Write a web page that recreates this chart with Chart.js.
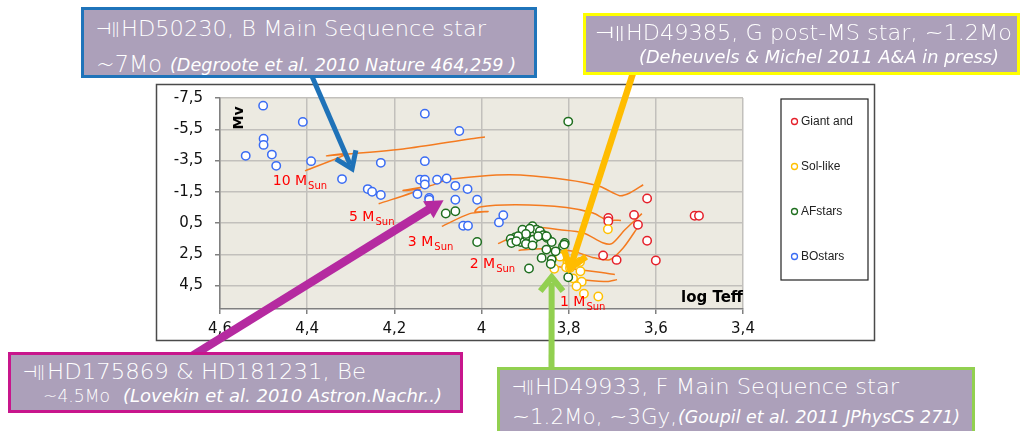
<!DOCTYPE html>
<html><head><meta charset="utf-8">
<script src="https://cdn.jsdelivr.net/npm/chart.js@4.4.1/dist/chart.umd.min.js"></script>
<style>
html,body{margin:0;padding:0;background:#fff;width:1021px;height:431px;overflow:hidden;}
#wrap{position:relative;width:1021px;height:431px;overflow:hidden;}
#c{position:absolute;left:0;top:0;}
.box{position:absolute;background:#ACA0BA;box-sizing:border-box;}
.ln{position:absolute;white-space:nowrap;color:#fff;font-family:"DejaVu Sans",Verdana,sans-serif;font-weight:200;transform-origin:0 0;}
.it{font-style:italic;}
</style></head>
<body><div id="wrap"><canvas id="c" width="1021" height="431"></canvas></div>
<script>
// ---------- DATA ----------
const xTicks = [4.6, 4.4, 4.2, 4.0, 3.8, 3.6, 3.4];
const xTickLabels = ['4,6', '4,4', '4,2', '4', '3,8', '3,6', '3,4'];
const yTicks = [-7.5, -5.5, -3.5, -1.5, 0.5, 2.5, 4.5];
const yTickLabels = ['-7,5', '-5,5', '-3,5', '-1,5', '0,5', '2,5', '4,5'];

const seriesNames = ['Giant and', 'Sol-like', 'AFstars', 'BOstars'];

const giantLogT = [3.620, 3.709, 3.709, 3.650, 3.641, 3.511, 3.501, 3.620, 3.721, 3.690, 3.600];
const giantMv   = [-1.07, 0.18, 0.39, -0.02, 0.61, 0.03, 0.03, 1.63, 2.58, 2.86, 2.90];

const solLogT = [3.710, 3.820, 3.803, 3.833, 3.806, 3.797, 3.773, 3.774, 3.790, 3.770, 3.782, 3.765, 3.732];
const solMv   = [0.90, 2.65, 2.98, 3.42, 3.33, 3.37, 3.58, 2.99, 4.04, 4.25, 4.54, 5.02, 5.20];

const afLogT = [4.082, 4.060, 3.801, 4.010, 3.906, 3.883, 3.874, 3.897, 3.881, 3.923, 3.933, 3.910, 3.898, 3.883,
                3.931, 3.866, 3.858, 3.849, 3.839, 3.809, 3.851, 3.830, 3.862, 3.839, 3.841, 3.891, 3.801, 3.889,
                3.898, 3.916, 3.870, 3.813, 3.920, 3.810, 3.851];
const afMv   = [-0.11, -0.25, -5.99, 1.71, 0.93, 0.71, 0.93, 1.35, 1.56, 1.42, 1.52, 1.71, 1.84, 1.93,
                1.78, 1.03, 1.28, 1.45, 1.71, 1.77, 2.20, 2.31, 2.73, 2.84, 3.12, 3.41, 3.97, 0.86,
                1.20, 1.35, 1.35, 1.99, 1.67, 1.88, 1.35];

const boLogT = [4.501, 4.410, 4.500, 4.500, 4.541, 4.481, 4.471, 4.391, 4.320, 4.231, 4.130, 4.130, 4.051, 4.261,
                4.251, 4.231, 4.147, 4.141, 4.130, 4.130, 4.102, 4.080, 4.060, 4.032, 4.120, 4.120, 4.060, 4.042,
                4.031, 4.010, 3.950, 3.960];
const boMv   = [-7.01, -5.97, -4.90, -4.50, -3.80, -3.88, -3.16, -3.46, -2.31, -3.35, -6.50, -3.46, -5.39, -1.67,
                -1.50, -1.29, -1.35, -2.27, -2.27, -1.97, -2.27, -2.35, -1.88, -1.67, -1.10, -0.99, -0.99, 0.67,
                0.67, -0.99, 0.00, 0.46];

// evolutionary tracks (log Teff, Mv)
const track10LogT = [4.405, 4.309, 4.355, 4.180, 4.027, 3.992];
const track10Mv   = [-2.84, -3.93, -3.80, -4.24, -4.88, -5.01];
const track5LogT  = [4.236, 4.141, 4.180, 4.118, 4.072, 3.935, 3.805, 3.728, 3.683, 3.660, 3.629];
const track5Mv    = [-0.73, -1.63, -1.58, -1.88, -2.31, -2.59, -2.27, -1.84, -1.25, -1.42, -1.95];
const track3LogT  = [4.091, 4.027, 3.985, 4.015, 4.004, 3.920, 3.805, 3.744, 3.713, 3.680];
const track3Mv    = [0.71, -0.10, -0.24, -0.22, -0.52, -0.67, -0.50, -0.14, 0.29, 0.33];
const track2LogT  = [3.962, 3.923, 3.878, 3.820, 3.767, 3.722, 3.701, 3.671, 3.632];
const track2Mv    = [1.82, 1.31, 0.80, 0.93, 1.12, 1.76, 1.82, 0.93, -0.10];
const track15LogT = [3.915, 3.860, 3.790, 3.745, 3.706, 3.675, 3.640];
const track15Mv   = [2.25, 2.15, 2.30, 2.70, 2.85, 2.10, 0.71];
const track12LogT = [3.843, 3.779, 3.724, 3.694];
const track12Mv   = [3.22, 3.48, 3.67, 3.80];
const track1LogT  = [3.809, 3.770, 3.712, 3.689];
const track1Mv    = [3.99, 4.12, 4.24, 4.12];

const massLabels = ['10', '5', '3', '2', '1'];
const massLabelLogT = [4.479, 4.304, 4.169, 4.027, 3.820];
const massLabelMv   = [-2.16, 0.16, 1.74, 3.16, 5.58];

// annotation notes: text lines
const notes = [
  {border:'#1F74BA', rect:[81,7,456,71], lines:[
    {t:'⊣ǁ', x:96, cy:29, w:24, s:16},
    {t:'HD50230, B Main Sequence star', x:121, cy:29, w:365, s:21},
    {t:'~7Mo', x:96, cy:64, w:66, s:23},
    {t:'(Degroote et al. 2010 Nature 464,259 )', x:170, cy:65, w:346, s:18, it:true}]},
  {border:'#FFFF00', rect:[583,13,437,62], lines:[
    {t:'⊣ǁ', x:595, cy:33, w:30, s:16},
    {t:'HD49385, G post-MS star, ~1.2Mo', x:626, cy:33, w:386, s:21},
    {t:'(Deheuvels & Michel 2011 A&A in press)', x:639, cy:57, w:360, s:18, it:true}]},
  {border:'#C8168C', rect:[8,352,455,61], lines:[
    {t:'⊣ǁ', x:23, cy:372, w:22, s:16},
    {t:'HD175869 & HD181231, Be', x:47, cy:372, w:319, s:21},
    {t:'~4.5Mo', x:43, cy:396, w:67, s:18},
    {t:'(Lovekin et al. 2010 Astron.Nachr..)', x:123, cy:396, w:319, s:18, it:true}]},
  {border:'#92D050', rect:[497,367,478,80], lines:[
    {t:'⊣ǁ', x:512, cy:387, w:22, s:16},
    {t:'HD49933, F Main Sequence star', x:535, cy:387, w:364, s:21},
    {t:'~1.2Mo, ~3Gy,', x:512, cy:417, w:165, s:21},
    {t:'(Goupil et al. 2011 JPhysCS 271)', x:678, cy:417, w:282, s:17, it:true}]}
];

// arrows: tail in page px (attached to a note), tip in data units
const arrows = [
  {color:'#1F72B8', width:5, tail:[311,74], tipLogT:4.297, tipMv:-2.97, head:'open', len:19, spread:35},
  {color:'#FFBC00', width:6.5, tail:[634,70], tipLogT:3.797, tipMv:3.41, head:'open', len:20, spread:36},
  {color:'#B52AA0', width:8.5, tail:[192,356], tipLogT:4.087, tipMv:-0.96, head:'filled', len:18, half:10},
  {color:'#92D050', width:6, tail:[551.5,372], tipLogT:3.839, tipMv:3.96, head:'open', len:18, spread:39}
];

// ---------- BUILD ----------
const pts = (xs, ys) => xs.map((x, i) => ({x, y: ys[i]}));
const orange = '#F47B20';
const trackDefs = [[track10LogT,track10Mv],[track5LogT,track5Mv],[track3LogT,track3Mv],[track2LogT,track2Mv],
                   [track15LogT,track15Mv],[track12LogT,track12Mv],[track1LogT,track1Mv]];
const trackSets = trackDefs.map(([a,b]) => ({
  type:'line', data:pts(a,b), showLine:true, borderColor:orange, borderWidth:1.5,
  pointRadius:0, tension:0.25, fill:false, order:10
}));
const pointColors = ['#E5202A', '#FFC000', '#1E6E1E', '#3A6CF4'];
const pointData = [pts(giantLogT,giantMv), pts(solLogT,solMv), pts(afLogT,afMv), pts(boLogT,boMv)];
const pointSets = pointData.map((d, i) => ({
  type:'scatter', label:seriesNames[i], data:d, showLine:false, pointRadius:4.2, pointBorderWidth:1.5,
  borderColor:pointColors[i], backgroundColor:'#fff', pointBackgroundColor:'#fff', order:4 - i
}));

function drawArrow(ctx, a, x1, y1) {
  const [x0, y0] = a.tail;
  const ang = Math.atan2(y1 - y0, x1 - x0);
  ctx.save();
  ctx.strokeStyle = a.color; ctx.fillStyle = a.color; ctx.lineWidth = a.width;
  ctx.lineCap = 'butt'; ctx.lineJoin = 'miter';
  if (a.head === 'filled') {
    const bx = x1 - a.len * Math.cos(ang), by = y1 - a.len * Math.sin(ang);
    ctx.beginPath(); ctx.moveTo(x0, y0); ctx.lineTo(bx + Math.cos(ang), by + Math.sin(ang)); ctx.stroke();
    const px = -Math.sin(ang), py = Math.cos(ang);
    ctx.beginPath(); ctx.moveTo(x1, y1);
    ctx.lineTo(bx + px * a.half, by + py * a.half);
    ctx.lineTo(bx - px * a.half, by - py * a.half);
    ctx.closePath(); ctx.fill();
  } else {
    const sx = x1 - a.width * 0.9 * Math.cos(ang), sy = y1 - a.width * 0.9 * Math.sin(ang);
    ctx.beginPath(); ctx.moveTo(x0, y0); ctx.lineTo(sx, sy); ctx.stroke();
    const sp = a.spread * Math.PI / 180, back = ang + Math.PI;
    ctx.beginPath();
    ctx.moveTo(x1 + a.len * Math.cos(back - sp), y1 + a.len * Math.sin(back - sp));
    ctx.lineTo(x1, y1);
    ctx.lineTo(x1 + a.len * Math.cos(back + sp), y1 + a.len * Math.sin(back + sp));
    ctx.stroke();
  }
  ctx.restore();
}

const decor = {
  id:'decor',
  beforeDraw(chart) {
    const {ctx, chartArea:ca} = chart;
    ctx.save();
    ctx.fillStyle = '#fff'; ctx.fillRect(0, 0, chart.width, chart.height);
    ctx.fillStyle = '#ECEAE1'; ctx.fillRect(ca.left, ca.top, ca.right - ca.left, ca.bottom - ca.top);
    ctx.strokeStyle = '#4A4A4A'; ctx.lineWidth = 1.5;
    ctx.strokeRect(156.5, 84.5, 718, 256);
    ctx.restore();
  },
  afterDatasetsDraw(chart) {
    const {ctx, chartArea:ca, scales:{x, y}} = chart;
    ctx.save();
    // mass labels
    ctx.fillStyle = '#FF0000'; ctx.textBaseline = 'middle'; ctx.textAlign = 'left';
    massLabels.forEach((m, i) => {
      const px = x.getPixelForValue(massLabelLogT[i]), py = y.getPixelForValue(massLabelMv[i]);
      ctx.font = '14px "DejaVu Sans", sans-serif';
      const t = m + ' M';
      ctx.fillText(t, px, py);
      const w = ctx.measureText(t).width;
      ctx.font = '10px "DejaVu Sans", sans-serif';
      ctx.fillText('Sun', px + w + 1, py + 5);
    });
    // axis titles
    ctx.fillStyle = '#000';
    ctx.font = 'bold 15px "DejaVu Sans", sans-serif';
    ctx.textAlign = 'right';
    ctx.fillText('log Teff', ca.right, 298);
    ctx.save();
    ctx.translate(239, 118); ctx.rotate(-Math.PI / 2);
    ctx.textAlign = 'center'; ctx.font = 'bold 14px "DejaVu Sans", sans-serif';
    ctx.fillText('Mv', 0, 0);
    ctx.restore();
    // legend
    ctx.strokeStyle = '#222'; ctx.lineWidth = 1.2;
    ctx.strokeRect(781, 99, 87, 181);
    ctx.font = '12px "Liberation Sans", Arial, sans-serif';
    ctx.textAlign = 'left';
    chart.data.datasets.filter(d => d.label).forEach((d, i) => {
      const ly = 121.5 + i * 45;
      ctx.beginPath(); ctx.arc(794.5, ly, 3, 0, Math.PI * 2);
      ctx.fillStyle = '#fff'; ctx.fill();
      ctx.strokeStyle = d.borderColor; ctx.lineWidth = 1.3; ctx.stroke();
      ctx.fillStyle = '#222'; ctx.fillText(d.label, 801, ly + 0.5);
    });
    // arrows
    arrows.forEach(a => drawArrow(ctx, a, x.getPixelForValue(a.tipLogT), y.getPixelForValue(a.tipMv)));
    ctx.restore();
  }
};

new Chart(document.getElementById('c'), {
  type:'scatter',
  data:{datasets:[...trackSets, ...pointSets]},
  options:{
    responsive:false, animation:false, devicePixelRatio:1,
    layout:{padding:{left:156, top:98, right:278, bottom:90}},
    plugins:{legend:{display:false}, tooltip:{enabled:false}},
    scales:{
      x:{type:'linear', reverse:true, min:3.4, max:4.6,
        afterBuildTicks:s => { s.ticks = xTicks.map(v => ({value:v})); },
        afterFit:s => { s.height = 32; },
        ticks:{callback:v => xTickLabels[xTicks.indexOf(v)], color:'#111', padding:6,
          font:{family:'"DejaVu Sans", sans-serif', size:15}, maxRotation:0, autoSkip:false},
        grid:{color:'#C2C0BC', lineWidth:1.5, tickColor:'#808080', tickLength:5},
        border:{color:'#808080', width:1.5}},
      y:{type:'linear', reverse:true, min:-7.5, max:6,
        afterBuildTicks:s => { s.ticks = yTicks.map(v => ({value:v})); },
        afterFit:s => { s.width = 64; },
        ticks:{callback:v => yTickLabels[yTicks.indexOf(v)], color:'#111', padding:12,
          font:{family:'"DejaVu Sans", sans-serif', size:15}, autoSkip:false},
        grid:{color:'#C2C0BC', lineWidth:1.5, tickColor:'#808080', tickLength:5},
        border:{color:'#808080', width:1.5}}
    }
  },
  plugins:[decor]
});

// notes (HTML text boxes)
const wrap = document.getElementById('wrap');
notes.forEach(n => {
  const b = document.createElement('div');
  b.className = 'box';
  b.style.cssText += `left:${n.rect[0]}px;top:${n.rect[1]}px;width:${n.rect[2]}px;height:${n.rect[3]}px;border:3px solid ${n.border};`;
  wrap.appendChild(b);
  n.lines.forEach(l => {
    const d = document.createElement('div');
    d.className = 'ln' + (l.it ? ' it' : '');
    d.textContent = l.t;
    d.style.fontSize = l.s + 'px';
    d.style.lineHeight = l.s + 'px';
    d.style.left = l.x + 'px';
    d.style.top = (l.cy - 0.48 * l.s) + 'px';
    wrap.appendChild(d);
    const w = d.getBoundingClientRect().width;
    d.style.transform = `scaleX(${l.w / w})`;
  });
});
</script>
</body></html>
